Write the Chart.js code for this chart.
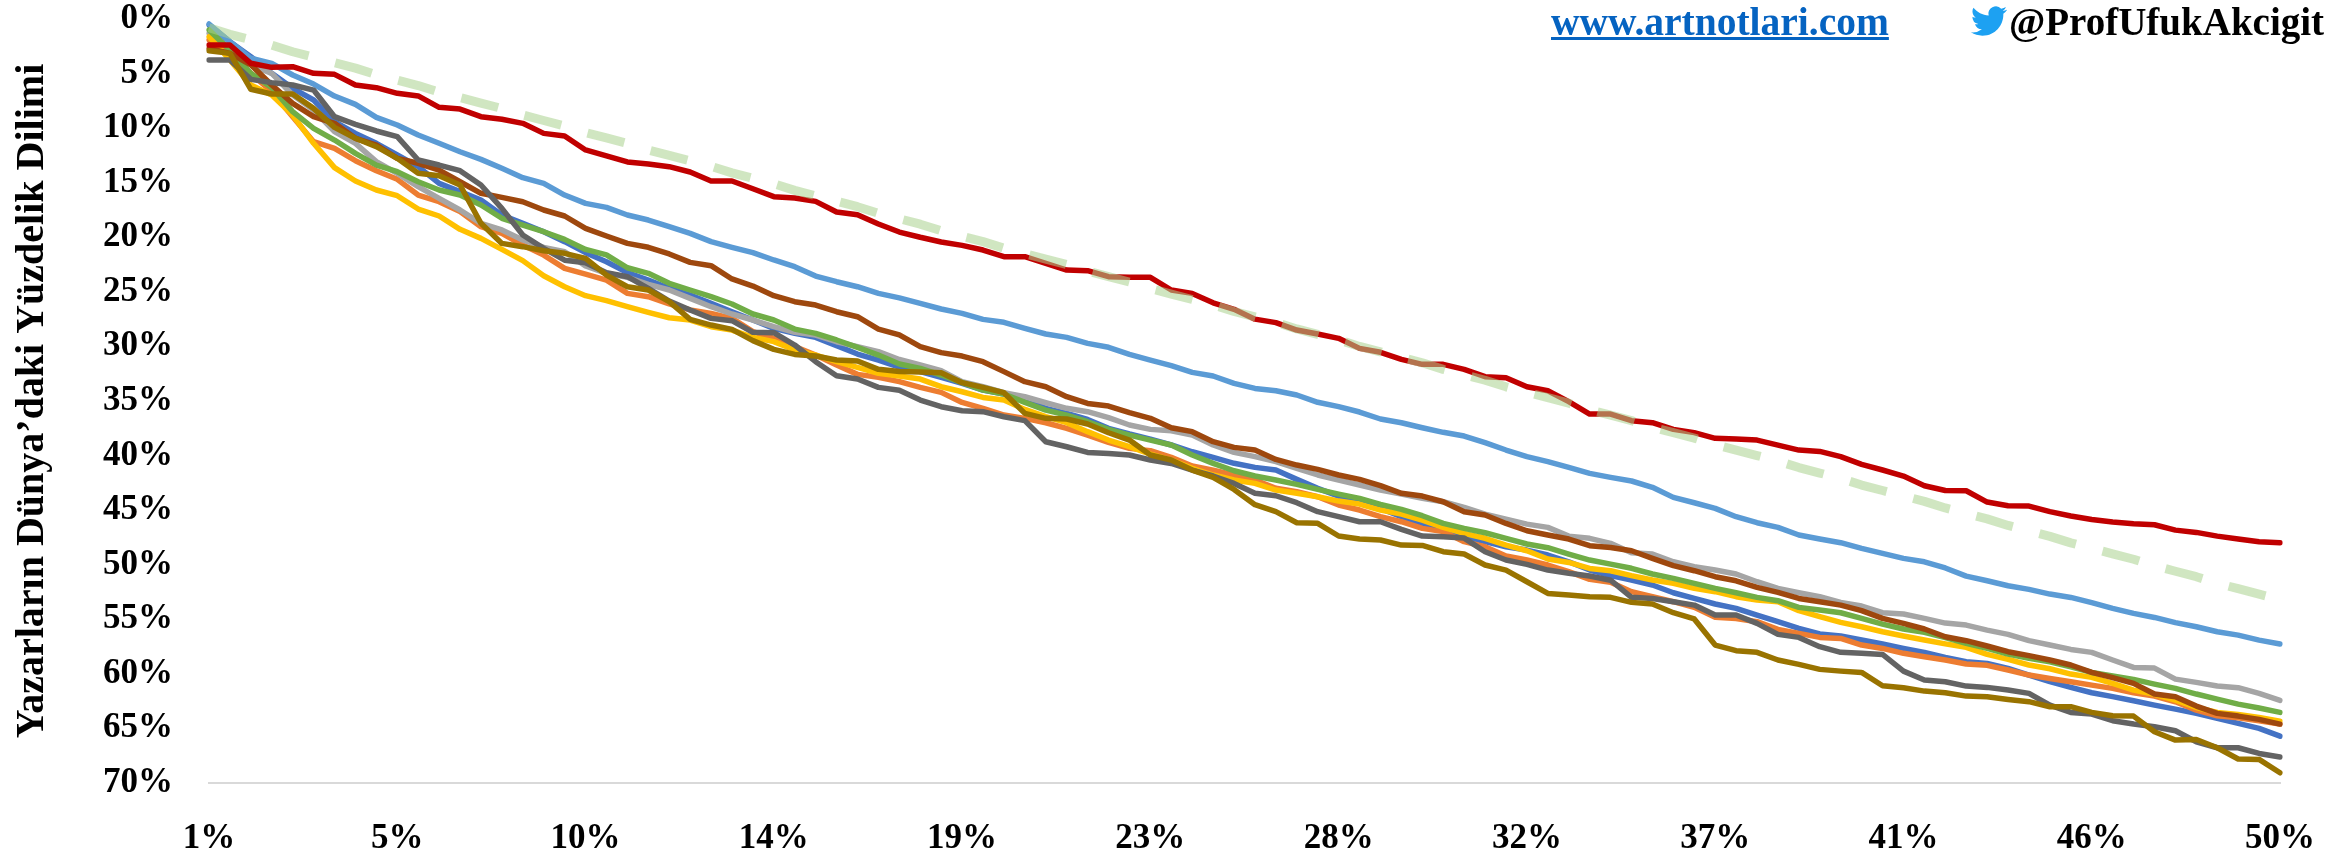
<!DOCTYPE html>
<html>
<head>
    <meta charset="utf-8">
    <title>Yazarların Dünya'daki Yüzdelik Dilimi</title>
    <script src="https://cdn.jsdelivr.net/npm/chart.js"></script>
    <style>
        body { margin: 0; background: #fff; }
        #wrap { position: relative; width: 2351px; height: 858px; overflow: hidden; }
        .note { position: absolute; font: bold 39px "Liberation Serif", serif; line-height: 44px; white-space: nowrap; }
        #site { left: 1551px; top: 0px; color: #0563C1; text-decoration: underline; font-size: 39.5px; }
        #handle { left: 2009px; top: 0px; color: #000; }
        #bird { position: absolute; left: 1971px; top: 3px; }
    </style>
</head>
<body>
    <div id="wrap">
        <canvas id="chart" width="2351" height="858"></canvas>
        <span class="note" id="site">www.artnotlari.com</span>
        <svg id="bird" width="36" height="36" viewBox="0 0 24 24"><path fill="#1DA1F2" d="M23.953 4.57a10 10 0 01-2.825.775 4.958 4.958 0 002.163-2.723c-.951.555-2.005.959-3.127 1.184a4.92 4.92 0 00-8.384 4.482C7.69 8.095 4.067 6.13 1.64 3.162a4.822 4.822 0 00-.666 2.475c0 1.71.87 3.213 2.188 4.096a4.904 4.904 0 01-2.228-.616v.06a4.923 4.923 0 003.946 4.827 4.996 4.996 0 01-2.212.085 4.936 4.936 0 004.604 3.417 9.867 9.867 0 01-6.102 2.105c-.39 0-.779-.023-1.17-.067a13.995 13.995 0 007.557 2.209c9.053 0 13.998-7.496 13.998-13.985 0-.21 0-.42-.015-.63A9.935 9.935 0 0024 4.59z"/></svg>
        <span class="note" id="handle">@ProfUfukAkcigit</span>
    </div>
    <script>
        const categories = [
            '1%','1%','2%','2%','3%','3%','4%','4%','5%','5%',
            '6%','6%','7%','7%','8%','8%','9%','9%','10%','10%',
            '11%','11%','12%','12%','13%','13%','14%','14%','15%','15%',
            '16%','16%','17%','17%','18%','18%','19%','19%','20%','20%',
            '21%','21%','22%','22%','23%','23%','24%','24%','25%','25%',
            '26%','26%','27%','27%','28%','28%','29%','29%','30%','30%',
            '31%','31%','32%','32%','33%','33%','34%','34%','35%','35%',
            '36%','36%','37%','37%','38%','38%','39%','39%','40%','40%',
            '41%','41%','42%','42%','43%','43%','44%','44%','45%','45%',
            '46%','46%','47%','47%','48%','48%','49%','49%','50%','50%'
        ];

        const blueValues = [
            0.55,2.08,3.45,4.98,6.35,7.42,9.41,10.48,11.39,12.46,13.53,15.06,15.82,16.59,17.96,18.72,19.49,
            20.4,21.41,22.24,23.24,23.92,24.68,25.29,26.05,26.82,27.58,28.35,28.8,29.17,29.93,30.7,31.25,31.9,
            32.31,32.83,33.38,34.0,34.36,34.91,35.67,36.13,36.69,37.5,38.02,38.49,39.03,39.65,40.16,40.71,
            41.08,41.33,42.18,43.0,43.71,44.23,44.84,45.6,46.21,46.76,47.44,47.89,48.35,48.66,49.11,49.73,50.49,
            51.0,51.4,51.86,52.57,53.09,53.6,54.0,54.61,55.22,55.83,56.35,56.53,56.9,57.27,57.67,58.03,
            58.5,58.89,59.04,59.5,60.11,60.72,61.24,61.73,62.09,62.46,62.86,63.23,63.62,64.08,64.54,65.0,65.71
        ];
        const orangeValues = [
            1.92,3.3,4.98,6.66,8.95,11.24,11.85,12.98,13.9,14.69,16.13,16.74,17.65,19.03,19.64,20.71,21.63,
            22.85,23.37,23.92,25.14,25.44,26.11,26.66,26.97,27.43,28.65,29.26,30.02,30.79,31.71,32.56,32.83,33.23,
            33.75,34.21,35.13,35.67,36.29,36.59,36.99,37.5,38.12,38.79,39.34,39.55,40.16,40.96,41.33,41.78,
            42.24,43.0,43.31,43.77,44.53,44.99,45.6,46.06,46.67,46.97,47.89,48.35,49.2,49.57,50.03,50.64,51.34,
            51.6,52.47,52.93,53.39,53.91,54.82,54.92,55.22,55.93,56.29,56.66,56.75,57.36,57.67,58.12,58.43,
            58.73,59.1,59.22,59.65,60.11,60.42,60.72,61.03,61.33,61.73,62.04,62.56,63.32,63.84,64.02,64.3,64.6
        ];
        const grayValues = [
            1.31,2.69,4.2,4.98,6.96,8.34,10.32,11.39,13.07,14.14,15.36,16.43,17.5,18.72,19.33,20.25,20.92,
            21.32,22.63,23.3,23.67,24.31,24.83,25.6,26.36,27.03,27.58,28.19,28.71,28.96,29.57,30.02,30.48,31.2,
            31.7,32.22,33.23,33.69,34.24,34.61,35.16,35.67,35.98,36.53,37.2,37.6,37.72,38.12,39.03,39.71,
            40.1,40.56,41.17,41.78,42.24,42.7,43.16,43.53,43.92,44.23,44.75,45.36,45.82,46.28,46.58,47.38,47.58,
            48.04,48.9,49.02,49.73,50.18,50.49,50.85,51.56,52.17,52.57,52.93,53.45,53.79,54.4,54.52,54.92,
            55.35,55.53,55.99,56.38,56.96,57.36,57.76,58.03,58.73,59.41,59.47,60.48,60.78,61.12,61.27,61.79,62.43
        ];
        const goldValues = [
            1.62,3.76,6.05,6.96,8.8,11.39,13.62,14.84,15.67,16.19,17.41,18.05,19.27,20.1,21.11,22.14,23.52,
            24.53,25.35,25.81,26.36,26.88,27.37,27.58,28.19,28.5,29.17,29.56,30.33,30.79,31.4,31.92,32.47,32.71,
            32.99,33.69,34.15,34.67,34.91,35.77,36.44,36.99,37.81,38.58,39.19,39.86,40.41,41.17,41.78,42.24,
            42.55,43.16,43.46,43.77,44.17,44.44,44.99,45.36,45.91,46.58,47.13,47.58,48.2,48.72,49.48,49.79,50.34,
            50.55,51.0,51.4,51.71,52.17,52.47,52.93,53.24,53.39,54.21,54.76,55.28,55.68,56.14,56.53,56.9,
            57.25,57.57,58.22,58.67,59.19,59.53,60.02,60.32,60.87,61.49,61.88,62.41,63.08,63.53,63.72,63.99,64.33
        ];
        const lightBlueValues = [
            0.46,2.08,3.6,4.06,5.13,5.96,7.06,7.82,9.01,9.71,10.63,11.39,12.16,12.86,13.68,14.54,15.06,
            16.13,16.89,17.26,17.96,18.42,19.03,19.64,20.4,20.92,21.41,22.08,22.69,23.55,24.07,24.53,25.14,25.55,
            26.05,26.57,26.97,27.52,27.79,28.34,28.86,29.17,29.72,30.08,30.73,31.25,31.76,32.38,32.71,33.38,
            33.85,34.06,34.45,35.12,35.52,36.01,36.65,36.99,37.45,37.87,38.21,38.82,39.49,40.1,40.56,41.08,41.63,
            42.0,42.33,42.91,43.83,44.32,44.84,45.6,46.15,46.58,47.28,47.65,47.98,48.5,48.96,49.42,49.73,
            50.3,51.04,51.47,51.93,52.26,52.69,53.0,53.48,54.0,54.46,54.83,55.31,55.68,56.14,56.45,56.91,57.27
        ];
        const greenValues = [
            1.01,2.84,4.98,6.3,8.49,10.02,11.09,12.31,13.38,13.99,14.91,15.67,16.13,17.04,18.26,18.88,19.49,
            20.19,21.11,21.62,22.79,23.3,24.22,24.83,25.44,26.11,27.03,27.58,28.41,28.8,29.41,30.08,30.79,31.61,
            32.01,32.62,33.32,34.0,34.36,35.13,35.83,36.29,36.9,37.6,38.12,38.58,39.03,39.95,40.71,41.39,
            41.87,42.24,42.64,43.1,43.53,43.92,44.47,44.93,45.51,46.21,46.67,47.07,47.58,48.1,48.44,49.02,49.57,
            49.95,50.33,50.85,51.25,51.71,52.17,52.57,52.99,53.3,53.91,54.15,54.4,54.91,55.44,55.89,56.2,
            56.68,57.21,57.67,58.19,58.58,58.89,59.35,59.87,60.2,60.51,60.94,61.33,61.85,62.31,62.77,63.13,63.53
        ];
        const brownValues = [
            2.69,3.15,4.2,6.05,7.73,8.95,9.56,10.93,11.55,12.77,13.22,13.84,14.91,15.97,16.34,16.74,17.5,
            18.05,19.18,19.88,20.56,20.92,21.53,22.3,22.6,23.82,24.47,25.35,25.9,26.21,26.82,27.28,28.41,28.95,
            30.02,30.57,30.88,31.4,32.31,33.23,33.69,34.61,35.22,35.46,36.07,36.59,37.45,37.81,38.73,39.25,
            39.49,40.35,40.87,41.26,41.78,42.18,42.76,43.46,43.71,44.23,45.14,45.45,46.22,46.89,47.28,47.65,48.26,
            48.42,48.72,49.42,50.09,50.55,51.1,51.47,52.08,52.54,53.09,53.39,53.7,54.21,54.91,55.37,55.89,
            56.6,56.96,57.45,57.97,58.33,58.73,59.19,59.87,60.35,60.87,61.85,62.09,62.95,63.62,63.87,64.17,64.6
        ];
        const darkGrayValues = [
            3.76,3.76,5.53,5.83,6.05,6.51,8.95,9.65,10.26,10.78,12.92,13.38,13.9,15.21,17.35,19.79,21.01,
            22.1,22.33,23.24,23.61,24.68,25.84,26.66,27.43,27.64,28.71,28.74,29.87,31.4,32.68,32.99,33.75,34.02,
            34.91,35.52,35.89,35.98,36.44,36.8,38.73,39.19,39.71,39.8,39.95,40.41,40.72,41.33,41.87,42.55,
            43.46,43.68,44.32,45.14,45.6,46.06,46.06,46.76,47.38,47.44,47.56,48.81,49.57,49.97,50.49,50.79,51.04,
            51.42,52.99,53.09,53.39,53.7,54.61,54.61,55.37,56.38,56.66,57.51,58.03,58.12,58.22,59.75,60.57,
            60.72,61.12,61.24,61.48,61.79,62.86,63.53,63.68,64.29,64.6,64.85,65.21,66.22,66.77,66.77,67.29,67.62
        ];
        const oliveValues = [
            2.9,3.15,6.44,6.87,6.87,8.19,9.93,10.93,11.7,12.77,14.14,14.36,15.21,18.72,20.56,20.86,21.23,
            21.47,21.93,23.46,24.53,24.83,25.9,27.52,28.04,28.44,29.47,30.27,30.73,30.88,31.25,31.34,32.1,32.3,
            32.35,32.41,33.32,33.75,34.24,36.13,36.59,36.65,37.11,37.91,38.58,39.95,40.41,41.33,42.0,43.1,
            44.5,45.14,46.15,46.21,47.37,47.65,47.74,48.2,48.23,48.81,49.02,50.03,50.49,51.56,52.63,52.78,52.94,
            52.99,53.45,53.6,54.4,54.97,57.36,57.88,58.03,58.73,59.13,59.59,59.75,59.87,61.09,61.27,61.58,
            61.73,62.04,62.1,62.34,62.55,63.01,63.01,63.53,63.84,63.87,65.3,66.07,66.01,66.77,67.8,67.84,69.06
        ];
        const redValues = [
            2.38,2.38,4.06,4.43,4.37,4.98,5.07,6.05,6.29,6.81,7.05,8.09,8.25,8.95,9.19,9.56,10.48,
            10.72,12.0,12.55,13.1,13.29,13.53,14.02,14.84,14.84,15.55,16.28,16.4,16.71,17.68,17.93,18.78,19.52,
            20.0,20.43,20.74,21.17,21.78,21.78,22.39,23.0,23.06,23.61,23.67,23.67,24.83,25.14,26.0,26.6,
            27.5,27.82,28.5,28.86,29.26,30.18,30.54,31.18,31.64,31.64,32.1,32.77,32.87,33.69,34.06,35.06,36.2,
            36.2,36.8,36.99,37.6,37.9,38.42,38.48,38.58,39.04,39.5,39.62,40.1,40.8,41.32,41.88,42.76,
            43.2,43.22,44.26,44.6,44.63,45.14,45.54,45.85,46.09,46.24,46.34,46.83,47.04,47.38,47.65,47.9,47.98
        ];
        const dashedValues = [
            0.8,1.4,1.9,2.4,3.0,3.5,4.0,4.5,5.1,5.6,6.1,6.7,7.2,7.7,8.2,8.8,9.3,9.8,10.4,10.9,
            11.4,12.0,12.5,13.0,13.5,14.1,14.6,15.1,15.7,16.2,16.7,17.2,17.8,18.3,18.8,19.4,19.9,20.4,21.0,21.5,
            22.0,22.5,23.1,23.6,24.1,24.7,25.2,25.7,26.2,26.8,27.3,27.8,28.4,28.9,29.4,30.0,30.5,31.0,31.5,32.1,
            32.6,33.1,33.7,34.2,34.7,35.2,35.8,36.3,36.8,37.4,37.9,38.4,39.0,39.5,40.0,40.5,41.1,41.6,42.1,42.7,
            43.2,43.7,44.2,44.8,45.3,45.8,46.4,46.9,47.4,48.0,48.5,49.0,49.5,50.1,50.6,51.1,51.7,52.2,52.7,53.2
        ];

        function line(data, color) {
            return {
                data: data,
                borderColor: color,
                borderWidth: 5.5,
                borderCapStyle: 'round',
                borderJoinStyle: 'round',
                pointRadius: 0,
                tension: 0,
                fill: false
            };
        }

        // listed top-most first, chart.js paints dataset 0 last
        const datasets = [
            Object.assign(line(dashedValues, 'rgba(169,209,142,0.55)'), {
                borderWidth: 9, borderCapStyle: 'butt', borderDash: [38, 27.5]
            }),
            line(redValues, '#C00000'),
            line(oliveValues, '#997300'),
            line(darkGrayValues, '#636363'),
            line(brownValues, '#9E480E'),
            line(greenValues, '#70AD47'),
            line(lightBlueValues, '#5B9BD5'),
            line(goldValues, '#FFC000'),
            line(grayValues, '#A5A5A5'),
            line(orangeValues, '#ED7D31'),
            line(blueValues, '#4472C4')
        ];

        const tickFont = { family: '"Liberation Serif", serif', weight: 'bold', size: 35 };

        new Chart(document.getElementById('chart'), {
            type: 'line',
            data: { labels: categories, datasets: datasets },
            options: {
                responsive: false,
                animation: false,
                layout: { padding: { top: 0, right: 71, left: 0, bottom: 0 } },
                plugins: { legend: { display: false }, tooltip: { enabled: false } },
                scales: {
                    x: {
                        grid: { display: false, drawTicks: false },
                        border: { display: true, color: '#D9D9D9', width: 2 },
                        ticks: {
                            color: '#000',
                            font: tickFont,
                            autoSkip: false,
                            maxRotation: 0,
                            padding: 35,
                            callback: (v, i) => i % 9 === 0 ? categories[i] : ''
                        },
                        afterFit: axis => { axis.height = 75; }
                    },
                    y: {
                        reverse: true,
                        min: 0,
                        max: 70,
                        grid: { display: false, drawTicks: false },
                        border: { display: false },
                        ticks: {
                            color: '#000',
                            font: tickFont,
                            stepSize: 5,
                            padding: 36,
                            callback: v => v + '%'
                        },
                        title: {
                            display: true,
                            text: 'Yazarların Dünya’daki Yüzdelik Dilimi',
                            color: '#000',
                            font: { family: '"Liberation Serif", serif', weight: 'bold', size: 40 },
                            padding: { top: 9, bottom: 0 }
                        },
                        // tick padding would otherwise push the plot top down
                        afterFit: axis => {
                            axis.width = 209;
                            axis.paddingTop = 19;
                            axis.paddingBottom = 0;
                        }
                    }
                }
            }
        });
    </script>
</body>
</html>
